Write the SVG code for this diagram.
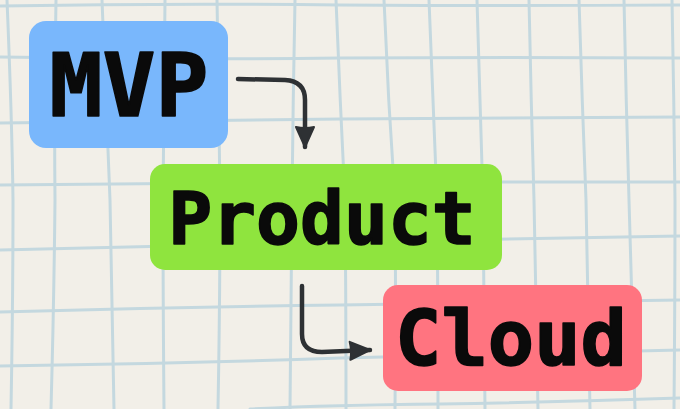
<svg xmlns="http://www.w3.org/2000/svg" width="680" height="409" viewBox="0 0 680 409">
  <defs>
    <style>
      .grid path { fill: none; stroke: #c4d8df; stroke-width: 3; stroke-linecap: round; }
      .node text { font-family: "DejaVu Sans Mono", "Liberation Mono", monospace; font-weight: bold; fill: #0a0a0a; stroke: #0a0a0a; stroke-width: 1.6; stroke-linejoin: round; text-anchor: middle; }
      .conn path { fill: none; stroke: #2e3134; stroke-width: 4.5; stroke-linecap: round; stroke-linejoin: round; }
    </style>
    <marker id="head" markerUnits="userSpaceOnUse" markerWidth="24" markerHeight="24" viewBox="0 0 24 24" refX="22" refY="12" orient="auto">
      <path d="M2,3 L22,12 L2,21 Q4,12 2,3 Z" fill="#2e3134" stroke="#2e3134" stroke-width="2" stroke-linejoin="round"/>
    </marker>
  </defs>
  <rect width="680" height="409" fill="#f2efe8"/>
  <g class="grid">
    <path d="M7,0 Q12,120 13,200 Q13,300 11,409"/>
    <path d="M56,0 Q54,100 55,200 Q54,300 51,409"/>
    <path d="M102,0 Q106,100 110,200 Q112,300 114,409"/>
    <path d="M165,0 Q164,100 163,200 Q163,300 164,409"/>
    <path d="M217,0 Q219,100 220,200 Q220,300 218,409"/>
    <path d="M295,0 Q293,100 292,200 Q291,300 290,409"/>
    <path d="M336,0 Q340,100 345,200 Q346,300 346,409"/>
    <path d="M384,0 Q388,100 395,200 Q396,300 395,409"/>
    <path d="M429,0 Q433,100 437,200 Q438,300 438,409"/>
    <path d="M477,0 Q480,100 483,200 Q484,300 485,409"/>
    <path d="M529,0 Q531,100 534,200 Q536,300 538,409"/>
    <path d="M579,0 Q582,100 586,200 Q588,300 590,409"/>
    <path d="M624,0 Q626,100 629,200 Q632,300 635,409"/>
    <path d="M672,0 Q674,100 675,200 Q675,300 674,409"/>
    <path d="M0,6 Q170,3 340,5 Q510,6 680,5"/>
    <path d="M0,57 Q170,60 340,58 Q510,57 680,58"/>
    <path d="M0,123 Q170,121 340,119 Q510,118 680,117"/>
    <path d="M0,185 Q170,183 340,182 Q510,182 680,182"/>
    <path d="M0,250 Q170,246 340,242 Q510,239 680,236"/>
    <path d="M0,312 Q170,307 340,305 Q510,303 680,300"/>
    <path d="M0,366 Q170,364 340,358 Q510,354 680,350"/>
    <path d="M250,409 Q330,405 440,404 Q560,402 680,398"/>
  </g>
  <g class="conn">
    <path d="M238,79 L285,80 Q305,81 305,100 L305,147" marker-end="url(#head)"/>
    <path d="M302,286 L302,334 Q302,352 322,352 L370,350" marker-end="url(#head)"/>
  </g>
  <g id="mvp" class="node">
    <rect x="29" y="21" width="199" height="127" rx="17" fill="#79b7fc"/>
    <text x="129" y="116" font-size="88">MVP</text>
  </g>
  <g id="product" class="node">
    <rect x="150" y="164" width="352" height="106" rx="15" fill="#8fe43e"/>
    <text x="322" y="244" font-size="73">Product</text>
  </g>
  <g id="cloud" class="node">
    <rect x="383" y="285" width="259" height="106" rx="15" fill="#ff7480"/>
    <text x="511" y="365" font-size="77">Cloud</text>
  </g>
</svg>
